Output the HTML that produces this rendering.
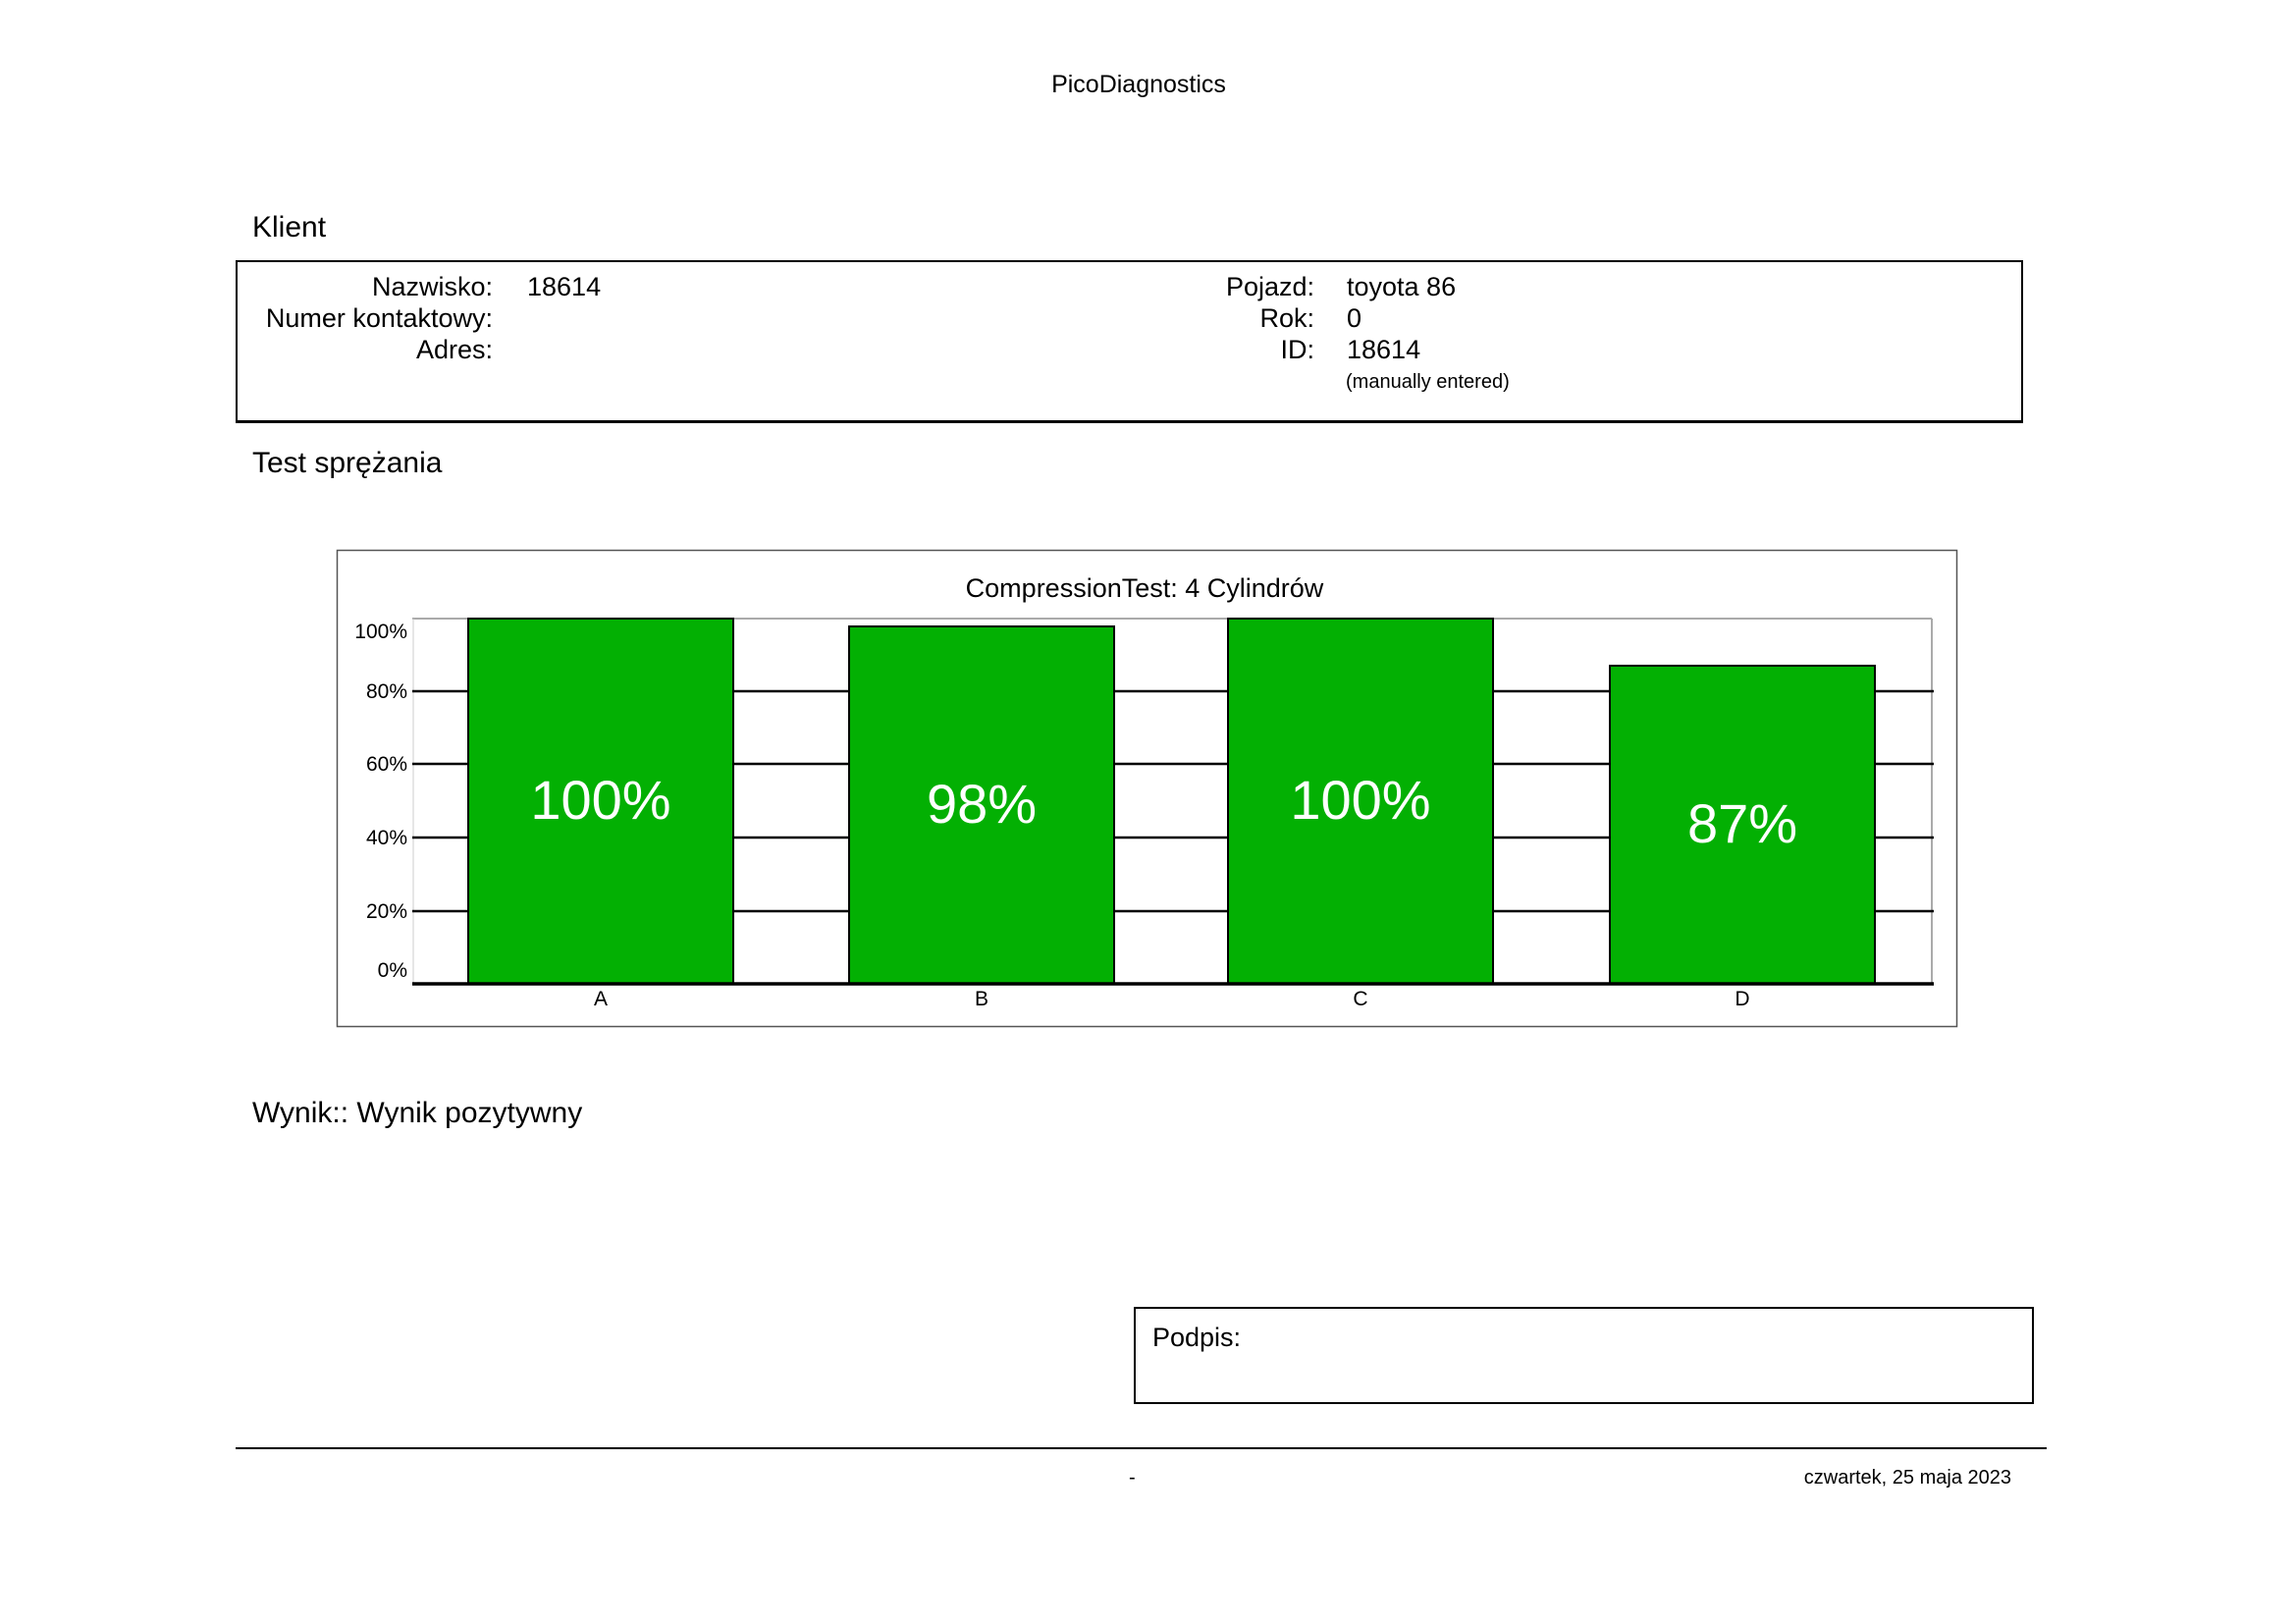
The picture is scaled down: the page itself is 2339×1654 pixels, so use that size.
<!DOCTYPE html>
<html><head><meta charset="utf-8"><style>
body{margin:0;width:2339px;height:1654px;background:#fff;position:relative;overflow:hidden;font-family:"Liberation Sans",Arial,sans-serif;color:#000}
.a{position:absolute;white-space:nowrap;line-height:1}
.r{text-align:right}
</style></head><body>
<div class="a" style="left:0;width:2320px;text-align:center;top:74px;font-size:25px">PicoDiagnostics</div>
<div class="a" style="left:257px;top:217px;font-size:30px">Klient</div>
<div class="a" style="left:240px;top:265px;width:1817px;height:161px;border:2px solid #000;border-bottom-width:3px"></div>
<div class="a r" style="right:1837px;top:279px;font-size:27px">Nazwisko:</div>
<div class="a r" style="right:1837px;top:311px;font-size:27px">Numer kontaktowy:</div>
<div class="a r" style="right:1837px;top:343px;font-size:27px">Adres:</div>
<div class="a" style="left:537px;top:279px;font-size:27px">18614</div>
<div class="a r" style="right:1000px;top:279px;font-size:27px">Pojazd:</div>
<div class="a r" style="right:1000px;top:311px;font-size:27px">Rok:</div>
<div class="a r" style="right:1000px;top:343px;font-size:27px">ID:</div>
<div class="a" style="left:1372px;top:279px;font-size:27px">toyota 86</div>
<div class="a" style="left:1372px;top:311px;font-size:27px">0</div>
<div class="a" style="left:1372px;top:343px;font-size:27px">18614</div>
<div class="a" style="left:1371px;top:379px;font-size:20px">(manually entered)</div>
<div class="a" style="left:257px;top:457px;font-size:30px">Test sprężania</div>
<svg class="a" style="left:0;top:0" width="2339" height="1654" font-family="Liberation Sans, Arial, sans-serif">
<rect x="343.5" y="560.5" width="1650" height="485" fill="none" stroke="#555" stroke-width="1.5"/>
<text x="1166" y="608" font-size="27" text-anchor="middle">CompressionTest: 4 Cylindrów</text>
<line x1="420" y1="630" x2="1968" y2="630" stroke="#aaa" stroke-width="2"/>
<line x1="1968" y1="630" x2="1968" y2="1002" stroke="#aaa" stroke-width="2"/>
<line x1="421" y1="630" x2="421" y2="1002" stroke="#ccc" stroke-width="1"/>
<g stroke="#000" stroke-width="2.5">
<line x1="420" y1="704" x2="1970" y2="704"/>
<line x1="420" y1="778" x2="1970" y2="778"/>
<line x1="420" y1="853" x2="1970" y2="853"/>
<line x1="420" y1="928" x2="1970" y2="928"/>
</g>
<g fill="#03b003" stroke="#000" stroke-width="2">
<rect x="477" y="630" width="270" height="372"/>
<rect x="865" y="638" width="270" height="364"/>
<rect x="1251" y="630" width="270" height="372"/>
<rect x="1640" y="678" width="270" height="324"/>
</g>
<line x1="420" y1="1002" x2="1970" y2="1002" stroke="#000" stroke-width="3.5"/>
<g fill="#fff" font-size="56" text-anchor="middle">
<text x="612" y="834">100%</text>
<text x="1000" y="838">98%</text>
<text x="1386" y="834">100%</text>
<text x="1775" y="858">87%</text>
</g>
<g font-size="21" text-anchor="end">
<text x="415" y="650">100%</text>
<text x="415" y="711">80%</text>
<text x="415" y="785">60%</text>
<text x="415" y="860">40%</text>
<text x="415" y="935">20%</text>
<text x="415" y="995">0%</text>
</g>
<g font-size="21" text-anchor="middle">
<text x="612" y="1024">A</text>
<text x="1000" y="1024">B</text>
<text x="1386" y="1024">C</text>
<text x="1775" y="1024">D</text>
</g>
<rect x="1156" y="1332" width="915" height="97" fill="none" stroke="#000" stroke-width="2"/>
<line x1="240" y1="1475" x2="2085" y2="1475" stroke="#000" stroke-width="2"/>
</svg>
<div class="a" style="left:257px;top:1119px;font-size:30px">Wynik:: Wynik pozytywny</div>
<div class="a" style="left:1174px;top:1349px;font-size:27px">Podpis:</div>
<div class="a" style="left:1150px;top:1495px;font-size:20px">-</div>
<div class="a r" style="right:290px;top:1495px;font-size:20px">czwartek, 25 maja 2023</div>
</body></html>
